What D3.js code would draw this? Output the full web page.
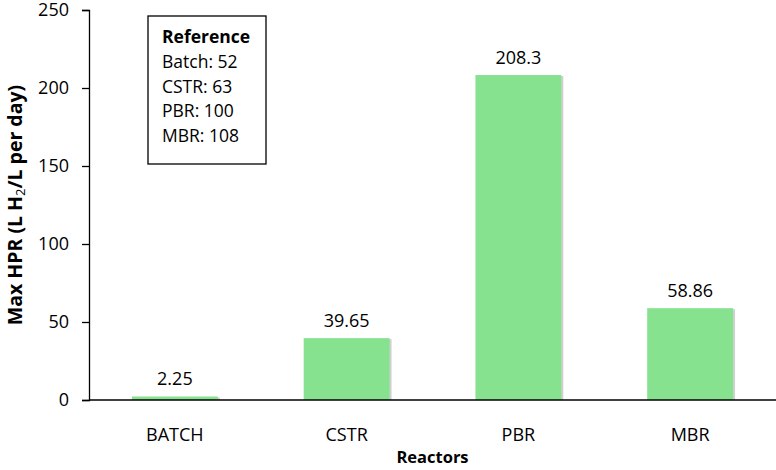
<!DOCTYPE html>
<html>
<head>
<meta charset="utf-8">
<script src="https://cdn.jsdelivr.net/npm/d3@7"></script>
<style>
  body { margin: 0; background: #fff; }
  text { font-family: "Open Sans", "Liberation Sans", sans-serif; fill: #000; }
</style>
</head>
<body>
<script>
var reactors = ["BATCH", "CSTR", "PBR", "MBR"];
var maxHpr = [2.25, 39.65, 208.3, 58.86];
var valueLabels = ["2.25", "39.65", "208.3", "58.86"];
var yTicks = [0, 50, 100, 150, 200, 250];
var refLines = ["Batch: 52", "CSTR: 63", "PBR: 100", "MBR: 108"];

var width = 776, height = 470;
var margin = { top: 10, right: 0, bottom: 70, left: 89 };

var svg = d3.select("body").append("svg")
  .attr("width", width)
  .attr("height", height);

var x = d3.scaleBand()
  .domain(reactors)
  .range([margin.left, width - margin.right])
  .paddingInner(0.5)
  .paddingOuter(0.25);

var y = d3.scaleLinear()
  .domain([0, 250])
  .range([height - margin.bottom, margin.top]);

// bars with a faint shadow on the right side
var data = reactors.map(function (r, i) { return { r: r, v: maxHpr[i], label: valueLabels[i] }; });

svg.selectAll("rect.shadow")
  .data(data)
  .enter().append("rect")
  .attr("class", "shadow")
  .attr("x", function (d) { return x(d.r) + 2; })
  .attr("y", function (d) { return y(d.v) + 1; })
  .attr("width", x.bandwidth())
  .attr("height", function (d) { return y(0) - y(d.v) - 1; })
  .attr("fill", "#d0d0d0");

svg.selectAll("rect.bar")
  .data(data)
  .enter().append("rect")
  .attr("class", "bar")
  .attr("x", function (d) { return x(d.r); })
  .attr("y", function (d) { return y(d.v); })
  .attr("width", x.bandwidth())
  .attr("height", function (d) { return y(0) - y(d.v); })
  .attr("fill", "#86e28e");

svg.selectAll("text.val")
  .data(data)
  .enter().append("text")
  .attr("class", "val")
  .attr("x", function (d) { return x(d.r) + x.bandwidth() / 2; })
  .attr("y", function (d) { return y(d.v) - 11; })
  .attr("text-anchor", "middle")
  .attr("font-size", 18)
  .text(function (d) { return d.label; });

// y axis
var yAxis = svg.append("g")
  .attr("transform", "translate(" + margin.left + ",0)")
  .call(d3.axisLeft(y).tickValues(yTicks).tickSize(7).tickPadding(13));
yAxis.selectAll("text").attr("font-size", 18).style("font-family", "Open Sans, sans-serif");
yAxis.selectAll("line, path").attr("stroke", "#000").attr("stroke-width", 1.3);

// x axis
var xAxis = svg.append("g")
  .attr("transform", "translate(0," + y(0) + ")")
  .call(d3.axisBottom(x).tickSize(0).tickPadding(28));
xAxis.select(".domain").attr("d", "M" + margin.left + ",0H" + width).attr("stroke", "#000").attr("stroke-width", 1.3);
xAxis.selectAll("text").attr("font-size", 18).style("font-family", "Open Sans, sans-serif");

// axis titles
svg.append("text")
  .attr("x", (margin.left + width) / 2)
  .attr("y", 463)
  .attr("text-anchor", "middle")
  .attr("font-size", 16.5)
  .attr("font-weight", "bold")
  .text("Reactors");

var yTitle = svg.append("text")
  .attr("transform", "translate(22," + 205 + ") rotate(-90)")
  .attr("text-anchor", "middle")
  .attr("font-size", 19.5)
  .attr("font-weight", "bold");
yTitle.append("tspan").text("Max HPR (L H");
yTitle.append("tspan").attr("font-size", 13).attr("font-weight", "normal").attr("dy", 3).text("2");
yTitle.append("tspan").attr("dy", -3).text("/L per day)");

// reference box
var box = svg.append("g").attr("transform", "translate(148,16)");
box.append("rect")
  .attr("width", 118)
  .attr("height", 148)
  .attr("fill", "#fff")
  .attr("stroke", "#000")
  .attr("stroke-width", 1.3);
box.append("text")
  .attr("x", 14)
  .attr("y", 27)
  .attr("font-size", 17.5)
  .attr("font-weight", "bold")
  .text("Reference");
box.selectAll("text.ref")
  .data(refLines)
  .enter().append("text")
  .attr("class", "ref")
  .attr("x", 14)
  .attr("y", function (d, i) { return 52 + i * 24.7; })
  .attr("font-size", 17.5)
  .text(function (d) { return d; });
</script>
</body>
</html>
